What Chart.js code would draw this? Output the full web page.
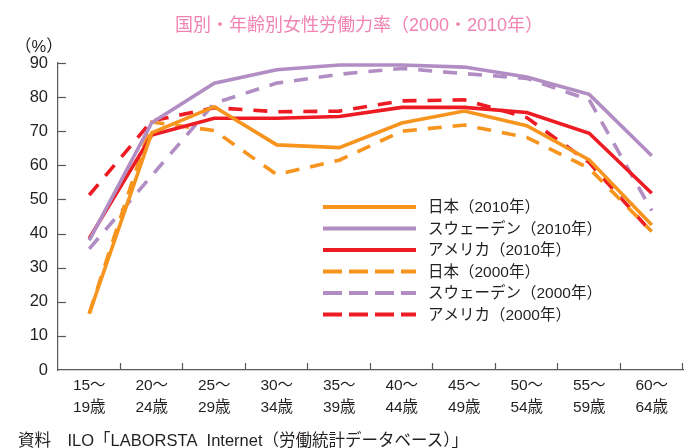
<!DOCTYPE html>
<html lang="ja">
<head>
<meta charset="utf-8">
<script src="https://cdn.jsdelivr.net/npm/chart.js@4.4.1/dist/chart.umd.min.js"></script>
<style>
  html, body { margin: 0; padding: 0; background: #fff; }
  #wrap { position: relative; width: 693px; height: 448px; overflow: hidden;
          font-family: 'Liberation Sans', 'Noto Sans CJK JP', sans-serif; color: #231f20; }
  #chart { position: absolute; left: 0; top: 0; }
  .txt { position: absolute; white-space: nowrap; }
  #title { left: 175px; top: 10px; font-size: 18px; color: #f183b2; }
  #unit { left: 15px; top: 33px; font-size: 16.5px; }
  #source { left: 18px; top: 427px; font-size: 16.5px; }
</style>
</head>
<body>
<div id="wrap">
  <canvas id="chart" width="693" height="448"></canvas>
  <div class="txt" id="title">国別・年齢別女性労働力率（2000・2010年）</div>
  <div class="txt" id="unit">（%）</div>
  <div class="txt" id="source">資料　ILO「LABORSTA&nbsp; Internet（労働統計データベース）」</div>
</div>
<script>
// Données (%)
const ageFrom = ['15', '20', '25', '30', '35', '40', '45', '50', '55', '60'];
const ageTo = ['19', '24', '29', '34', '39', '44', '49', '54', '59', '64'];
const seriesNames = ['日本（2010年）', 'スウェーデン（2010年）', 'アメリカ（2010年）',
                     '日本（2000年）', 'スウェーデン（2000年）', 'アメリカ（2000年）'];
const japan2010 = [16.5, 69.5, 77.2, 66.0, 65.2, 72.4, 75.9, 71.6, 61.6, 42.5];
const sweden2010 = [38.0, 72.5, 84.1, 88.0, 89.4, 89.4, 88.8, 85.9, 80.8, 62.8];
const usa2010 = [38.6, 68.9, 73.8, 73.8, 74.3, 77.0, 77.0, 75.5, 69.4, 51.8];
const japan2000 = [16.6, 72.7, 70.2, 57.3, 61.5, 70.0, 71.8, 68.2, 59.1, 40.6];
const sweden2000 = [35.5, 57.0, 78.2, 84.1, 86.7, 88.4, 86.9, 85.5, 79.2, 46.7];
const usa2000 = [51.3, 73.0, 76.9, 75.7, 75.9, 78.9, 79.2, 74.0, 60.8, 40.3];
const yTicks = [0, 10, 20, 30, 40, 50, 60, 70, 80, 90];

const ORANGE = '#f7941e';
const PURPLE = '#b18dc3';
const RED = '#ed1c24';
const AXIS = '#595757';
const DASH = [14, 11];

const labels = ageFrom.map((a, i) => [a + '～', ageTo[i] + '歳']);

function makeSet(name, values, color, dashed) {
    return {
        label: name,
        data: values,
        borderColor: color,
        backgroundColor: color,
        borderWidth: 3.6,
        borderDash: dashed ? DASH : [],
        pointRadius: 0,
        tension: 0,
        fill: false
    };
}

// Petites graduations vers l'intérieur + légende dans la zone du graphique
const extrasPlugin = {
    id: 'extras',
    afterDraw(chart) {
        const ctx = chart.ctx;
        const area = chart.chartArea;
        const y = chart.scales.y;
        ctx.save();
        ctx.strokeStyle = AXIS;
        ctx.lineWidth = 1.2;
        yTicks.forEach(v => {
            if (v === 0) return;
            const py = Math.round(y.getPixelForValue(v)) + 0.5;
            ctx.beginPath();
            ctx.moveTo(area.left, py);
            ctx.lineTo(area.left + 8, py);
            ctx.stroke();
        });
        const step = (area.right - area.left) / ageFrom.length;
        for (let i = 1; i <= ageFrom.length; i++) {
            const px = Math.round(area.left + step * i) - 0.5;
            ctx.beginPath();
            ctx.moveTo(px, area.bottom);
            ctx.lineTo(px, area.bottom - 7);
            ctx.stroke();
        }

        // légende
        const lx0 = 323, lx1 = 416, tx = 428, top = 207, gap = 21.5;
        ctx.font = "15.5px 'Liberation Sans', 'Noto Sans CJK JP', sans-serif";
        ctx.textBaseline = 'middle';
        ctx.textAlign = 'left';
        chart.data.datasets.forEach((ds, i) => {
            const ry = top + gap * i;
            ctx.strokeStyle = ds.borderColor;
            ctx.lineWidth = 4;
            ctx.setLineDash(ds.borderDash.length ? [19, 7] : []);
            ctx.beginPath();
            ctx.moveTo(lx0, ry);
            ctx.lineTo(lx1, ry);
            ctx.stroke();
            ctx.setLineDash([]);
            ctx.fillStyle = '#231f20';
            ctx.fillText(ds.label, tx, ry + 1);
        });
        ctx.restore();
    }
};

const ctx = document.getElementById('chart').getContext('2d');
const chart = new Chart(ctx, {
    type: 'line',
    data: {
        labels: labels,
        datasets: [
            makeSet(seriesNames[0], japan2010, ORANGE, false),
            makeSet(seriesNames[1], sweden2010, PURPLE, false),
            makeSet(seriesNames[2], usa2010, RED, false),
            makeSet(seriesNames[3], japan2000, ORANGE, true),
            makeSet(seriesNames[4], sweden2000, PURPLE, true),
            makeSet(seriesNames[5], usa2000, RED, true)
        ]
    },
    options: {
        responsive: false,
        animation: false,
        devicePixelRatio: 1,
        layout: { padding: { left: 0, right: 10, top: 63, bottom: 0 } },
        plugins: {
            legend: { display: false },
            tooltip: { enabled: false },
            title: { display: false }
        },
        scales: {
            x: {
                type: 'category',
                offset: true,
                grid: { display: true, drawOnChartArea: false, drawTicks: false },
                border: { display: true, color: AXIS, width: 1.2 },
                ticks: {
                    color: '#231f20',
                    padding: 4,
                    maxRotation: 0,
                    autoSkip: false,
                    font: { family: "'Liberation Sans', 'Noto Sans CJK JP', sans-serif", size: 15.5, lineHeight: 1.45 }
                },
                afterFit(scale) { scale.height = 78; }
            },
            y: {
                min: 0,
                max: 90,
                grid: { display: true, drawOnChartArea: false, drawTicks: false },
                border: { display: true, color: AXIS, width: 1.2 },
                ticks: {
                    stepSize: 10,
                    color: '#231f20',
                    padding: 10,
                    font: { family: "'Liberation Sans', 'Noto Sans CJK JP', sans-serif", size: 16.5 }
                },
                afterFit(scale) { scale.width = 58; }
            }
        }
    },
    plugins: [extrasPlugin]
});
</script>
</body>
</html>
